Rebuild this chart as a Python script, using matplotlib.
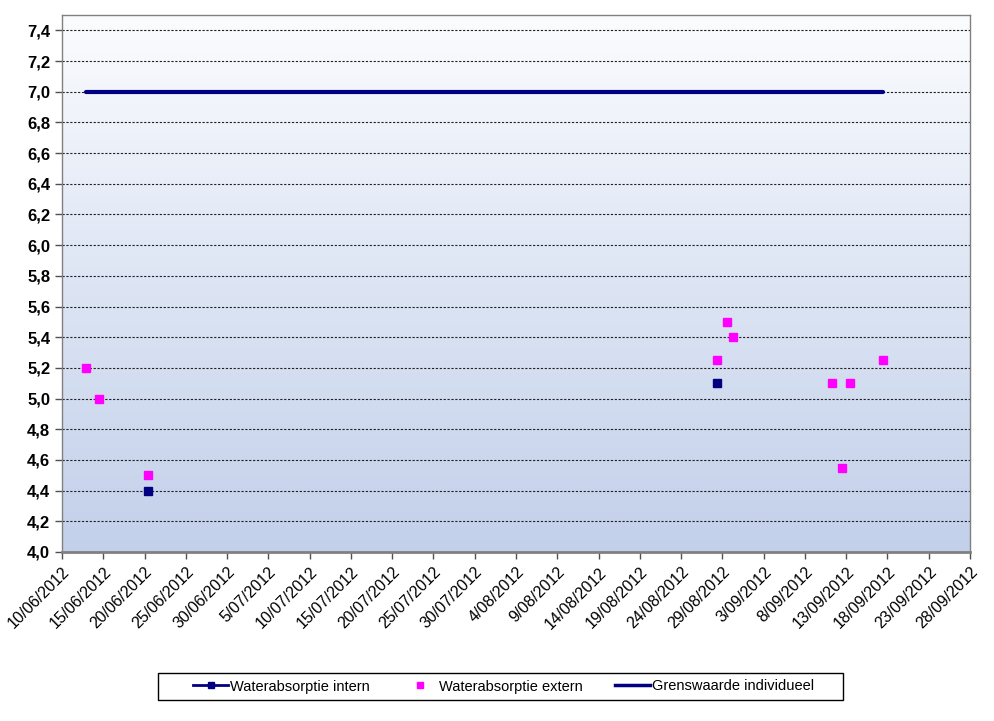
import matplotlib
matplotlib.use("Agg")
import matplotlib.pyplot as plt
import matplotlib.dates as mdates
from matplotlib.lines import Line2D
from matplotlib.patches import Rectangle
from matplotlib.colors import LinearSegmentedColormap
from datetime import datetime, timedelta
import numpy as np

# Data
intern_dates = ["2012-06-20 10:00", "2012-08-28 09:00"]
intern_values = [4.4, 5.1]

extern_dates = ["2012-06-12 21:00", "2012-06-14 11:00", "2012-06-20 10:00",
                "2012-08-28 09:00", "2012-08-29 14:00", "2012-08-30 07:00",
                "2012-09-11 07:00", "2012-09-12 12:00", "2012-09-13 12:00",
                "2012-09-17 12:00"]
extern_values = [5.2, 5.0, 4.5, 5.25, 5.5, 5.4, 5.1, 4.55, 5.1, 5.25]

grens_dates = ["2012-06-12 21:00", "2012-09-17 12:00"]
grens_values = [7.0, 7.0]

start = datetime(2012, 6, 10)
end = datetime(2012, 9, 28)
tick_dates = [start + timedelta(days=5 * i) for i in range(23)]
y_ticks = [round(4.0 + 0.2 * i, 1) for i in range(18)]

def to_dt(lst):
    return [datetime.strptime(s, "%Y-%m-%d %H:%M") for s in lst]

plt.rcParams['font.family'] = ['Liberation Sans', 'DejaVu Sans']

W, H = 995, 721
fig = plt.figure(figsize=(W / 100, H / 100), dpi=100)
ax = fig.add_axes([62 / W, 1 - 552 / H, 908 / W, 537 / H])

x0, x1 = mdates.date2num(start), mdates.date2num(end)
y0, y1 = 4.0, 7.5

# gradient background
cmap = LinearSegmentedColormap.from_list("bg", ["#c3d0ea", "#dde5f4", "#fbfcfe"])
grad = np.linspace(0, 1, 256).reshape(-1, 1)
ax.imshow(grad, cmap=cmap, origin="lower", aspect="auto",
          extent=[x0, x1, y0, y1], zorder=0)

# grid lines
for yv in y_ticks[1:]:
    ax.axhline(yv, color="#202020", lw=0.8, ls=(0, (2, 1.5)), zorder=1)

ax.plot(to_dt(grens_dates), grens_values, color="#000080", lw=3, zorder=3,
        solid_capstyle="round")
ax.plot(to_dt(extern_dates), extern_values, ls="none", marker="s", ms=6,
        color="#ff00ff", zorder=4)
ax.plot(to_dt(intern_dates), intern_values, ls="none", marker="s", ms=6,
        color="#000080", zorder=5)

ax.set_xlim(x0, x1)
ax.set_ylim(y0, y1)

ax.set_xticks(tick_dates)
ax.set_xticklabels([f"{d.day}/{d.month:02d}/{d.year}" for d in tick_dates],
                   rotation=45, ha="right", rotation_mode="anchor", fontsize=11.5)
ax.set_yticks(y_ticks)
ax.set_yticklabels([f"{v:.1f}".replace(".", ",") for v in y_ticks],
                   fontsize=12, fontweight="bold")
ax.tick_params(axis="both", direction="out", length=5, color="#505050", width=1)
ax.tick_params(axis="x", pad=4)

for s in ax.spines.values():
    s.set_color("#808080")
    s.set_linewidth(1)
ax.spines["bottom"].set_linewidth(2)

# legend box
fig.patches.append(Rectangle((158 / W, 1 - 700 / H), 685 / W, 27 / H,
                             transform=fig.transFigure, fill=False,
                             edgecolor="black", lw=1))

handles = [
    Line2D([], [], color="#000080", lw=2, marker="s", ms=4),
    Line2D([], [], ls="none", color="#ff00ff", marker="s", ms=5),
    Line2D([], [], color="#000080", lw=2.5),
]
labels = ["Waterabsorptie intern", "Waterabsorptie extern", "Grenswaarde individueel"]
leg = fig.legend(handles, labels, loc="center", bbox_to_anchor=(503.5 / W, 1 - 686.5 / H),
                 ncol=3, fontsize=10.5, frameon=False, borderpad=0,
                 handlelength=2.4, columnspacing=2.25, handletextpad=0.1)

fig.savefig("out.png", dpi=100, facecolor="white")
